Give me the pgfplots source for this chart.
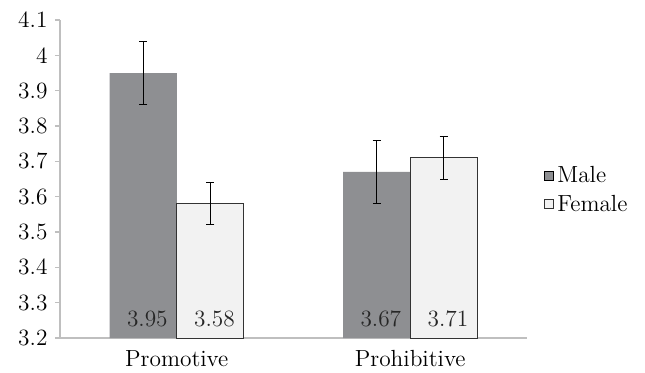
\documentclass[border=0pt]{standalone}
\usepackage{pgfplots}
\pgfplotsset{compat=1.18}
\definecolor{male}{HTML}{8E8F92}
\definecolor{female}{HTML}{F2F2F2}
\definecolor{axisgray}{HTML}{BFBFBF}
\begin{document}
\begin{tikzpicture}[font=\fontsize{14}{16}\selectfont]
\begin{axis}[name=ax, scale only axis, width=280.2pt, height=190.8pt,
  xmin=-0.5, xmax=1.5, ymin=3.2, ymax=4.1,
  ytick={3.2,3.3,3.4,3.5,3.6,3.7,3.8,3.9,4,4.1},
  yticklabels={3.2,3.3,3.4,3.5,3.6,3.7,3.8,3.9,4,4.1},
  axis x line*=bottom, axis y line*=left,
  axis line style={axisgray, line width=0.8pt},
  xtick={0,1}, xticklabels={Promotive,Prohibitive},
  major x tick style={draw=none},
  extra x ticks={-0.5,0.5,1.5}, extra x tick labels={},
  extra x tick style={tick style={axisgray, line width=0.8pt}},
  ytick style={axisgray, line width=0.8pt},
  tick align=outside, major tick length=3pt,
  xticklabel style={yshift=-1pt},
  yticklabel style={xshift=-1pt},
  legend style={draw=none, fill=none, at={(1.025,0.465)}, anchor=west, row sep=2pt, font=\fontsize{14}{16}\selectfont},
  legend cell align=left,
  legend image code/.code={\draw[#1] (0pt,-2.7pt) rectangle (5.4pt,2.7pt);},
]
\addplot[ybar, bar width=0.2876, bar shift=0, fill=male, draw=none,
  error bars/.cd, y dir=both, y explicit,
  error bar style={black, line width=0.6pt},
  error mark options={rotate=90, mark size=2.5pt, black, line width=0.6pt}]
  coordinates {(-0.1438,3.95) +- (0,0.09) (0.8562,3.67) +- (0,0.09)};
\addlegendentry{Male}
\addplot[ybar, bar width=0.2876, bar shift=0, fill=female, draw=black!80, line width=0.6pt,
  error bars/.cd, y dir=both, y explicit,
  error bar style={black, line width=0.6pt},
  error mark options={rotate=90, mark size=2.5pt, black, line width=0.6pt}]
  coordinates {(0.1438,3.58) +- (0,0.06) (1.1438,3.71) +- (0,0.06)};
\addlegendentry{Female}
\addplot[only marks, mark=none, forget plot, nodes near coords, point meta=explicit symbolic,
  every node near coord/.style={anchor=south, yshift=3pt, xshift=2.5pt, text=black!85, font=\fontsize{14}{16}\selectfont}]
  coordinates {(-0.1438,3.2) [3.95] (0.1438,3.2) [3.58] (0.8562,3.2) [3.67] (1.1438,3.2) [3.71]};
\end{axis}
\path (ax.south west) ++(-36pt,-16.8pt) rectangle ++(387pt,219.6pt);
\end{tikzpicture}
\end{document}
